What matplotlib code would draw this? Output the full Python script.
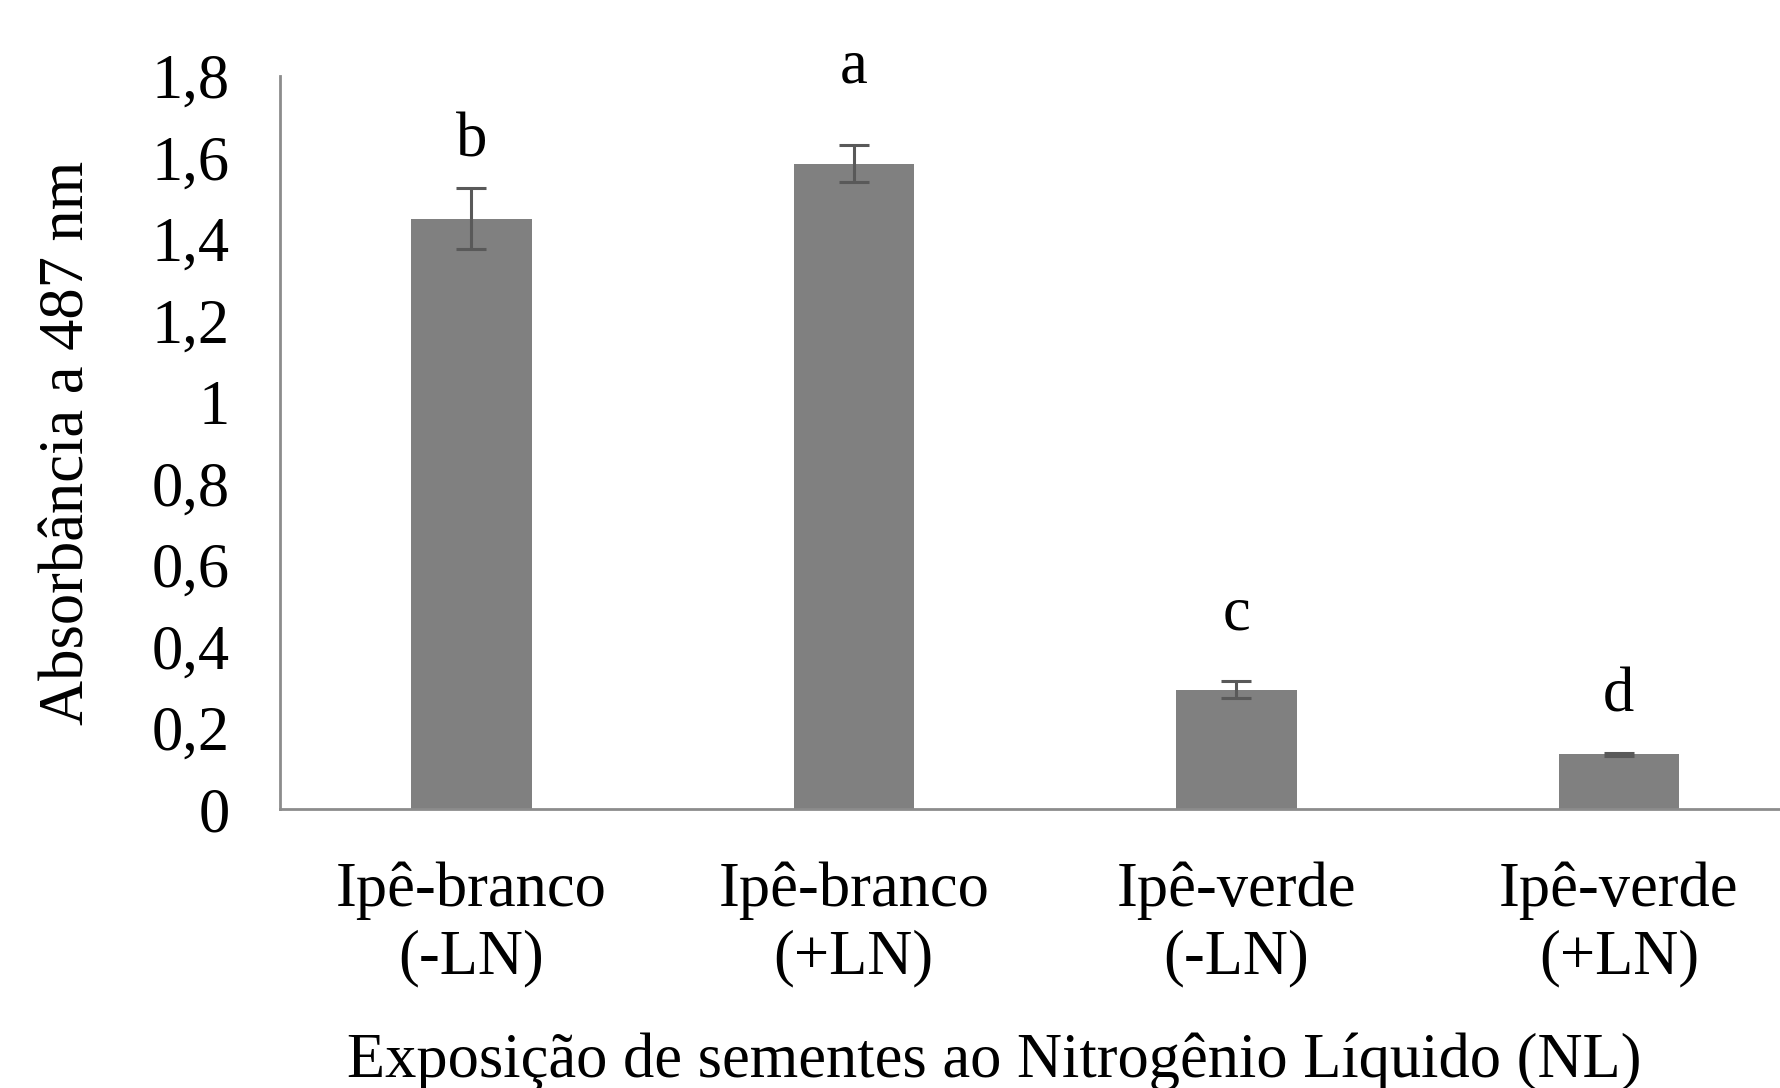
import matplotlib.pyplot as plt

# dados
categorias = ['Ipê-branco\n(-LN)', 'Ipê-branco\n(+LN)', 'Ipê-verde\n(-LN)', 'Ipê-verde\n(+LN)']
absorbancia = [1.45, 1.585, 0.293, 0.134]
erro = [0.075, 0.045, 0.021, 0.003]
letras = ['b', 'a', 'c', 'd']

# distância das letras acima das barras de erro (layout)
letra_pad = [0.078, 0.153, 0.126, 0.103]

plt.rcParams['font.family'] = ['Liberation Serif', 'DejaVu Serif']
fs = 45

fig = plt.figure(figsize=(17.8, 10.88), dpi=100)
ax = fig.add_axes([0.1573, 0.2564, 0.8596, 0.6737])

x = range(len(categorias))
ax.bar(x, absorbancia, width=0.315, color='#808080', zorder=2)
ax.errorbar(x, absorbancia, yerr=erro, fmt='none', ecolor='#595959',
            elinewidth=2.2, capsize=11, capthick=2.2, zorder=3)

for xx, yy, ee, ll, pp in zip(x, absorbancia, erro, letras, letra_pad):
    ax.text(xx, yy + ee + pp, ll, ha='center', va='baseline', fontsize=fs)

ax.set_xlim(-0.5, 3.5)
ax.set_ylim(0, 1.8)
ax.set_yticks([i * 0.2 for i in range(10)])
ax.set_yticklabels(['0', '0,2', '0,4', '0,6', '0,8', '1', '1,2', '1,4', '1,6', '1,8'])
ax.set_xticks(list(x))
ax.set_xticklabels(categorias, linespacing=1.2)
ax.tick_params(axis='both', length=0, labelsize=fs, colors='black')
ax.tick_params(axis='x', pad=38)
ax.tick_params(axis='y', pad=36)

for s in ['top', 'right']:
    ax.spines[s].set_visible(False)
for s in ['left', 'bottom']:
    ax.spines[s].set_color('#8c8c8c')
    ax.spines[s].set_linewidth(2)

ax.set_ylabel('Absorbância a 487 nm', fontsize=fs)
ax.yaxis.set_label_coords(-0.119, 0.5)
ax.set_xlabel('Exposição de sementes ao Nitrogênio Líquido (NL)', fontsize=fs)
ax.xaxis.set_label_coords(0.467, -0.305)

plt.savefig('out.png', dpi=100)
